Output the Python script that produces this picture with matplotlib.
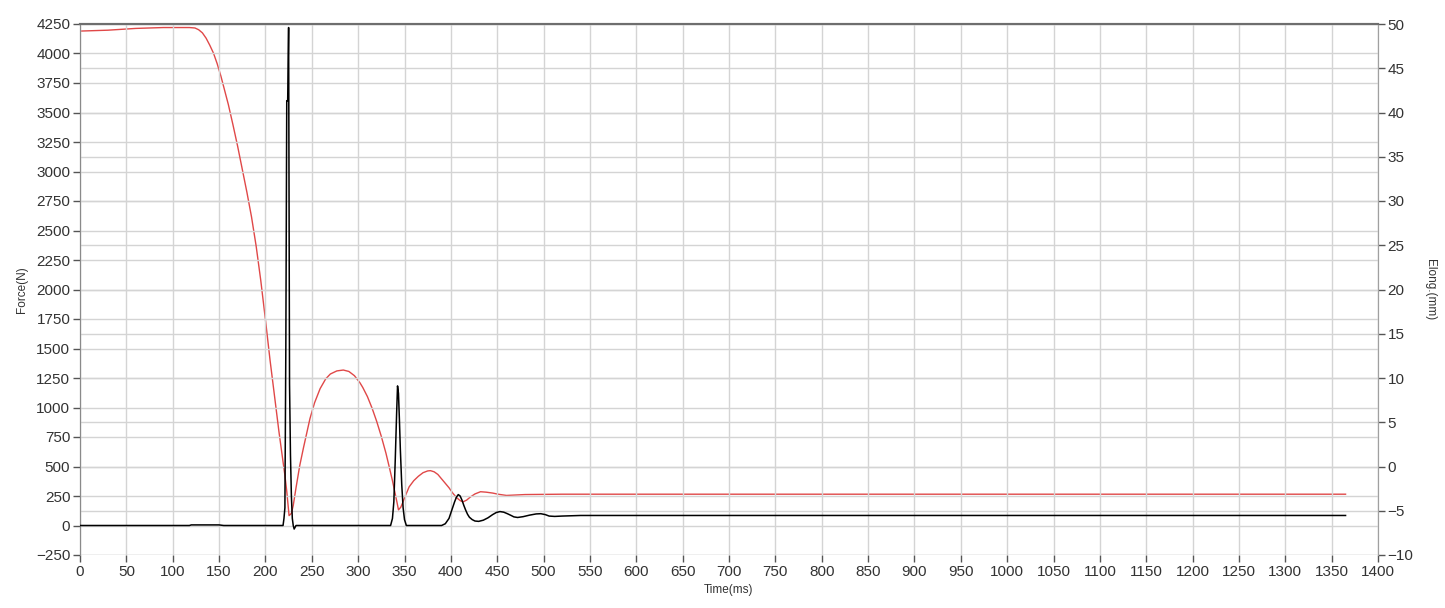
import matplotlib
matplotlib.use("Agg")
import matplotlib.pyplot as plt
import numpy as np

plt.rcParams['font.family'] = ['Liberation Sans', 'DejaVu Sans']

# Elongation (red, right axis, mm)
elong_t = [0, 30, 60, 90, 118, 124, 128, 132, 136, 140, 144, 148, 152, 156, 160, 165, 170, 175,
           180, 185, 190, 195, 200, 205, 210, 214.5, 218, 221, 223, 225.5, 228,
           230, 233, 237, 241, 248, 253, 259, 265, 270, 277, 284, 290, 296, 302,
           305, 310, 315, 320, 325, 330, 334, 337, 340, 342, 343.5, 346, 348, 351, 355, 360, 365,
           370, 375, 378, 382, 386, 390, 394, 398, 402, 406, 410, 413, 417, 421, 426, 432, 438,
           445, 452, 460, 470, 480, 520, 1365]
elong_mm = [49.2, 49.3, 49.5, 49.6, 49.6, 49.55, 49.35, 49.0, 48.4, 47.6, 46.7, 45.5, 44.1, 42.5,
            40.9, 38.6, 36.2, 33.6, 31.0, 28.2, 24.9, 21.0, 16.6, 12.0, 7.8, 4.0, 1.3, -1.0, -2.8,
            -5.55, -5.3, -4.4, -2.4, 0.1, 2.1, 5.4, 7.2, 8.8, 9.9, 10.45, 10.8, 10.9, 10.74, 10.26,
            9.45, 8.93, 7.9, 6.6, 5.1, 3.4, 1.5, -0.25, -1.6, -3.1, -4.1, -4.9, -4.6,
            -4.1, -3.3, -2.3, -1.6, -1.1, -0.7, -0.5, -0.47, -0.6, -0.9, -1.4, -1.9, -2.4, -3.0,
            -3.5, -3.85, -4.0, -3.8, -3.45, -3.1, -2.85, -2.9, -3.0, -3.15, -3.27, -3.22, -3.17,
            -3.13, -3.13]

# Force (black, left axis, N)
force_t = [0, 118, 120, 150, 155, 219, 220, 221, 222, 223, 224, 225, 226, 227, 228, 229, 230, 231,
           233, 335, 337, 338.5, 340, 341.5, 342.5, 343.5, 344.5, 345.5, 347, 348.5, 350, 352,
           390, 394, 398, 401, 404, 406, 408, 410, 412, 414, 416, 418, 420, 423, 426, 430, 435,
           440, 445, 449, 453, 457, 461, 465, 468, 472, 478, 485, 492, 497, 502, 506, 512, 520,
           540, 1365]
force_n = [0, 0, 5, 5, 0, 0, 60, 150, 1500, 3600, 3600, 4220, 1200, 600, 250, 60, 0, -30,
           0, 0, 60, 200, 550, 950, 1183, 1120, 900, 650, 350, 150, 50, 0,
           0, 15, 60, 130, 200, 240, 262, 250, 215, 170, 130, 95, 70, 50, 38, 35, 45,
           65, 92, 110, 118, 113, 100, 85, 73, 68, 75, 88, 98, 100, 92, 80, 77, 80,
           85, 85]

x_ticks = list(range(0, 1401, 50))
force_ticks = list(range(-250, 4251, 250))
elong_ticks = list(range(-10, 51, 5))

fig = plt.figure(figsize=(14.45, 6.08), dpi=100)
ax = fig.add_axes([80/1445, 1-555/608, (1378-80)/1445, (555-24)/608])
ax2 = ax.twinx()

grid_c = '#d4d4d4'
ax.set_xlim(0, 1400)
ax.set_ylim(-250, 4250)
ax2.set_ylim(-10, 50)
ax.set_xticks(x_ticks)
ax.set_yticks(force_ticks)
ax2.set_yticks(elong_ticks)
ax.grid(True, color=grid_c, linewidth=1.0)
ax2.grid(True, axis='y', color=grid_c, linewidth=1.0)
ax.set_axisbelow(True)
ax2.set_axisbelow(True)

ax2.plot(elong_t, elong_mm, color='#e04848', linewidth=1.0, zorder=3)
ax.plot(force_t, force_n, color='black', linewidth=1.1, zorder=4)
ax.set_zorder(ax2.get_zorder() + 1)
ax.patch.set_visible(False)

for a in (ax, ax2):
    a.spines['bottom'].set_visible(False)
    a.spines['left'].set_color('#8a8a8a')
    a.spines['right'].set_color('#a0a0a0')
    a.spines['top'].set_color('#6e6e6e')
    a.spines['top'].set_linewidth(1.5)
    a.tick_params(direction='out', length=5, width=1, color='#555555', labelsize=11,
                  labelcolor='#333333', pad=2)

ax.set_xlabel('Time(ms)', fontsize=8.5, color='#333333', labelpad=4)
ax.set_ylabel('Force(N)', fontsize=8.5, color='#333333', labelpad=6)
ax2.set_ylabel('Elong.(mm)', fontsize=8.5, color='#333333', rotation=-90, labelpad=16)

fig.savefig('out.png', dpi=100)
